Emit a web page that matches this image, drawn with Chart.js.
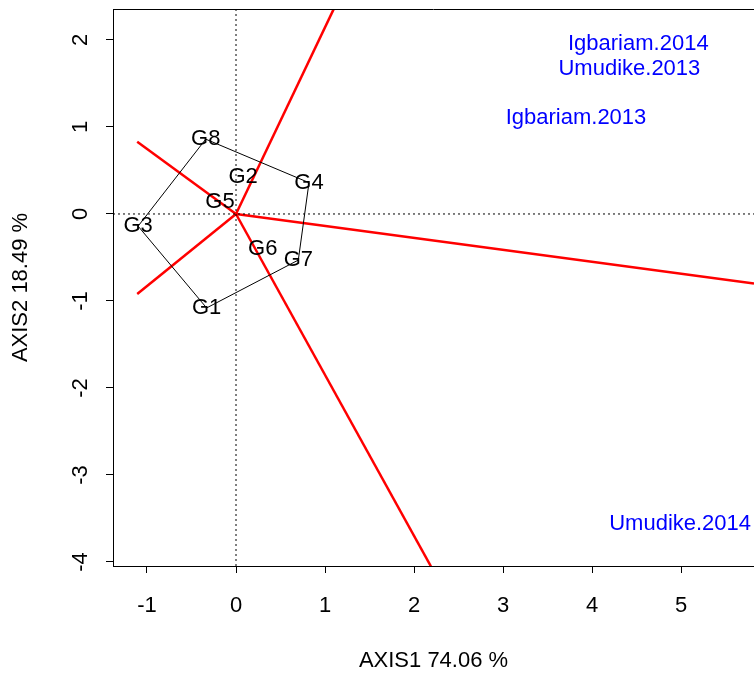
<!DOCTYPE html>
<html>
<head>
<meta charset="utf-8">
<script src="https://cdn.jsdelivr.net/npm/chart.js@4.4.0/dist/chart.umd.min.js"></script>
<style>
  body { margin: 0; background: #fff; }
  #wrap { width: 754px; height: 675px; }
</style>
</head>
<body>
<div id="wrap"><canvas id="myChart"></canvas></div>
<script>
// genotype scores
const genotypes = ["G1", "G2", "G3", "G4", "G5", "G6", "G7", "G8"];
const genX = [-0.33, 0.08, -1.10, 0.82, -0.18, 0.30, 0.70, -0.34];
const genY = [-1.08, 0.43, -0.14, 0.36, 0.14, -0.40, -0.53, 0.86];

// polygon vertices (order)
const hull = ["G8", "G4", "G7", "G1", "G3", "G8"];

// environment scores
const envNames = ["Igbariam.2014", "Umudike.2013", "Igbariam.2013", "Umudike.2014"];
const envX = [4.52, 4.42, 3.82, 4.99];
const envY = [1.95, 1.67, 1.10, -3.56];

// red rays from origin (end points)
const rayX = [1.10, 5.82, 2.19, -1.11, -1.11];
const rayY = [2.36, -0.80, -4.05, -0.92, 0.83];

const xTicks = [-1, 0, 1, 2, 3, 4, 5];
const yTicks = [2, 1, 0, -1, -2, -3, -4];

const xMin = -1.382, xMax = 5.82;
const yMin = -4.046, yMax = 2.356;

const FONT = "'Liberation Sans', Arial, Helvetica, sans-serif";
const FS = 22;
Chart.defaults.font.family = FONT;
Chart.defaults.color = "#000";

const datasets = [];

// dotted zero lines
datasets.push({
  data: [{ x: xMin, y: 0 }, { x: xMax, y: 0 }],
  showLine: true, borderColor: "#000", borderWidth: 1, borderDash: [2, 3], pointRadius: 0,
});
datasets.push({
  data: [{ x: 0, y: yMin }, { x: 0, y: yMax }],
  showLine: true, borderColor: "#000", borderWidth: 1, borderDash: [2, 3], pointRadius: 0,
});

// polygon
datasets.push({
  data: hull.map((g) => {
    const i = genotypes.indexOf(g);
    return { x: genX[i], y: genY[i] };
  }),
  showLine: true, borderColor: "#000", borderWidth: 1, pointRadius: 0,
});

// rays
for (let i = 0; i < rayX.length; i++) {
  datasets.push({
    data: [{ x: 0, y: 0 }, { x: rayX[i], y: rayY[i] }],
    showLine: true, borderColor: "#ff0000", borderWidth: 2.5, pointRadius: 0,
  });
}

// genotype + environment points (labels drawn by plugin)
datasets.push({
  label: "gen",
  data: genotypes.map((g, i) => ({ x: genX[i], y: genY[i] })),
  pointRadius: 0,
});
datasets.push({
  label: "env",
  data: envNames.map((e, i) => ({ x: envX[i], y: envY[i] })),
  pointRadius: 0,
});

const labelPlugin = {
  id: "labelPlugin",
  afterDatasetsDraw(chart) {
    const ctx = chart.ctx;
    const xs = chart.scales.x;
    const ys = chart.scales.y;
    const area = chart.chartArea;
    ctx.save();
    ctx.textAlign = "center";
    ctx.textBaseline = "middle";
    ctx.font = FS + "px " + FONT;
    ctx.fillStyle = "#000";
    genotypes.forEach((g, i) => {
      ctx.fillText(g, xs.getPixelForValue(genX[i]), ys.getPixelForValue(genY[i]));
    });
    ctx.fillStyle = "#0000ff";
    envNames.forEach((e, i) => {
      ctx.fillText(e, xs.getPixelForValue(envX[i]), ys.getPixelForValue(envY[i]));
    });

    // box top
    ctx.strokeStyle = "#000";
    ctx.lineWidth = 1;
    ctx.beginPath();
    ctx.moveTo(area.left, area.top + 0.5);
    ctx.lineTo(area.right, area.top + 0.5);
    ctx.stroke();

    // rotated y tick labels
    ctx.fillStyle = "#000";
    yTicks.forEach((v) => {
      ctx.save();
      ctx.translate(81, ys.getPixelForValue(v));
      ctx.rotate(-Math.PI / 2);
      ctx.fillText(String(v), 0, 0);
      ctx.restore();
    });
    ctx.restore();
  },
};

const ctx = document.getElementById("myChart").getContext("2d");
const myChart = new Chart(ctx, {
  type: "scatter",
  data: { datasets },
  options: {
    responsive: true,
    maintainAspectRatio: false,
    animation: false,
    layout: { padding: { top: 9, right: 0, left: 0, bottom: 0 } },
    plugins: { legend: { display: false }, tooltip: { enabled: false } },
    scales: {
      x: {
        type: "linear",
        min: xMin,
        max: xMax,
        afterBuildTicks: (scale) => { scale.ticks = xTicks.map((v) => ({ value: v })); },
        afterFit: (scale) => { scale.height = 109; },
        grid: { drawOnChartArea: false, drawTicks: true, tickLength: 7, color: "#000", lineWidth: 1 },
        border: { color: "#000", width: 1 },
        ticks: { padding: 20, font: { size: FS }, maxRotation: 0, autoSkip: false },
        title: { display: true, text: "AXIS1 74.06 %", font: { size: FS }, padding: { top: 0, bottom: 1 } },
      },
      y: {
        type: "linear",
        min: yMin,
        max: yMax,
        afterBuildTicks: (scale) => { scale.ticks = yTicks.map((v) => ({ value: v })); },
        afterFit: (scale) => { scale.width = 113; },
        grid: { drawOnChartArea: false, drawTicks: true, tickLength: 7, color: "#000", lineWidth: 1 },
        border: { color: "#000", width: 1 },
        ticks: { display: false },
        title: { display: true, text: "AXIS2 18.49 %", font: { size: FS }, padding: { top: 8, bottom: 0 } },
      },
    },
  },
  plugins: [labelPlugin],
});
</script>
</body>
</html>
